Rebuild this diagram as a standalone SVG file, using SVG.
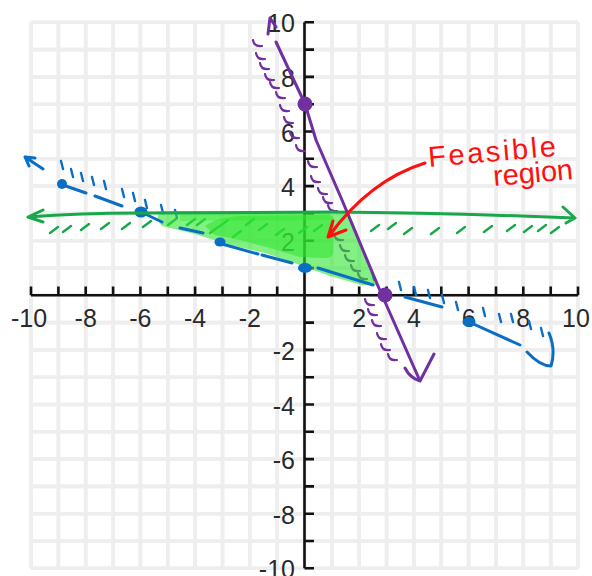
<svg xmlns="http://www.w3.org/2000/svg" width="592" height="576" viewBox="0 0 592 576">
<style>
.grid{fill:none;stroke:#cccccc;stroke-width:2}
.halo{fill:none;stroke:#eeeeee;stroke-width:3.6}
.axis{fill:none;stroke:#111;stroke-width:2.6}
.lbl{font-family:"Liberation Sans",Arial,sans-serif;font-size:25px;fill:#2a2a2a}
.lx{text-anchor:middle}
.ly{text-anchor:end}
.ink{fill:none;stroke-linecap:round;stroke-linejoin:round}
.blue{stroke:#0b6ec5;stroke-width:3}
.blueh{stroke:#0b6ec5;stroke-width:2.4}
.green{stroke:#18a84a;stroke-width:3}
.greenh{stroke:#18a84a;stroke-width:2.4}
.purple{stroke:#7030a0;stroke-width:3}
.purpleh{stroke:#7030a0;stroke-width:2.2}
.red{stroke:#ff1010;stroke-width:3}
.note{font-family:"Liberation Sans",Arial,sans-serif;font-size:29px;fill:#ff1010}
</style>
<rect width="592" height="576" fill="#fff"/>
<g id="grid">
<path id="gridlines" d="M31 22.3V568.3M58.4 22.3V568.3M85.7 22.3V568.3M113.1 22.3V568.3M140.4 22.3V568.3M167.8 22.3V568.3M195.1 22.3V568.3M222.5 22.3V568.3M249.8 22.3V568.3M277.2 22.3V568.3M304.5 22.3V568.3M331.9 22.3V568.3M359.2 22.3V568.3M386.6 22.3V568.3M413.9 22.3V568.3M441.3 22.3V568.3M468.6 22.3V568.3M496 22.3V568.3M523.3 22.3V568.3M550.7 22.3V568.3M578 22.3V568.3M31 22.3H578M31 49.6H578M31 76.9H578M31 104.2H578M31 131.5H578M31 158.8H578M31 186.1H578M31 213.4H578M31 240.7H578M31 268H578M31 295.3H578M31 322.6H578M31 349.9H578M31 377.2H578M31 404.5H578M31 431.8H578M31 459.1H578M31 486.4H578M31 513.7H578M31 541H578M31 568.3H578" class="halo"/>
<use href="#gridlines" style="fill:none;stroke:#cccccc;stroke-width:2"/>
</g>
<g id="axes">
<path class="axis" d="M31 295.3H578M304.5 22.3V568.3"/>
<path class="axis" d="M31 286.5V295.3M58.4 286.5V295.3M85.7 286.5V295.3M113.1 286.5V295.3M140.4 286.5V295.3M167.8 286.5V295.3M195.1 286.5V295.3M222.5 286.5V295.3M249.8 286.5V295.3M277.2 286.5V295.3M331.9 286.5V295.3M359.2 286.5V295.3M386.6 286.5V295.3M413.9 286.5V295.3M441.3 286.5V295.3M468.6 286.5V295.3M496 286.5V295.3M523.3 286.5V295.3M550.7 286.5V295.3M578 286.5V295.3M304.5 22.3H314M304.5 49.6H314M304.5 76.9H314M304.5 104.2H314M304.5 131.5H314M304.5 158.8H314M304.5 186.1H314M304.5 213.4H314M304.5 240.7H314M304.5 268H314M304.5 322.6H314M304.5 349.9H314M304.5 377.2H314M304.5 404.5H314M304.5 431.8H314M304.5 459.1H314M304.5 486.4H314M304.5 513.7H314M304.5 541H314M304.5 568.3H314"/>
<g class="lbl lx">
<text x="29" y="327">-10</text><text x="85.7" y="327">-8</text><text x="140.4" y="327">-6</text><text x="195.1" y="327">-4</text><text x="249.8" y="327">-2</text><text x="359.2" y="327">2</text><text x="413.9" y="327">4</text><text x="468.6" y="327">6</text><text x="523.3" y="327">8</text><text x="576" y="327">10</text>
</g>
<g class="lbl ly">
<text x="295" y="32.3">10</text><text x="295" y="86.9">8</text><text x="295" y="141.5">6</text><text x="295" y="196.1">4</text><text x="295" y="250.7">2</text><text x="295" y="359.9">-2</text><text x="295" y="414.5">-4</text><text x="295" y="469.1">-6</text><text x="295" y="523.7">-8</text><text x="295" y="578.3">-10</text>
</g>
</g>
<g id="hatches">
<path class="ink greenh" d="M50 233l8-6M63 232l8-6M81 230l8-6M101 229l8-6M122 229l8-6M143 227l8-6M168 225l8-6M187 225l8-6M197 225l8-6M210 233l8-6M220 226l8-6M233 237l8-6M246 225l8-6M259 230l8-6M276 235l8-6M299 233l8-6M314 231l8-6M371 231l8-6M388 229l8-6M404 234l8-6M431 234l8-6M457 233l8-6M484 232l8-6M507 231l8-6M524 232l8-6M538 231l8-6M551 233l8-6"/>
<path class="ink purpleh" d="M253 40q1 7 9 6M256 53q1 7 9 6M260 63q1 7 9 6M265 74q1 7 9 6M270 82q1 7 9 6M276 92q1 7 9 6M280 105q1 7 9 6M284 117q1 7 9 6M290 132q1 7 9 6M296 145q1 7 9 6M308 161q1 7 9 6M311 176q1 7 9 6M318 188q1 7 9 6M323 197q1 7 9 6M328 205q1 7 9 6M334 234q1 7 9 6M340 245q1 7 9 6M345 255q1 7 9 6M351 265q1 7 9 6M358 273q1 7 9 6M365 299q1 7 9 6M368 309q1 7 9 6M372 320q1 7 9 6M377 333q1 7 9 6M381 344q1 7 9 6M388 354q1 7 9 6"/>
<path class="ink blueh" d="M61 161l2 8M71 169l2 8M81 173l2 8M92 177l2 8M104 181l2 8M122 189l2 8M133 193l2 8M145 200l2 8M161 205l2 8M175 210l2 8M372 272l2 8M399 282l2 8M414 287l2 8M428 290l2 8M442 295l2 8M456 302l2 8M483 308l2 8M499 314l2 8M511 314l2 8M529 321l2 8M541 328l2 8"/>
</g>
<g id="feasible-fill">
<path d="M160 211L330 211L349 213L354 224L366 256L376 285L362 285L330 276L300 265L265 253L230 245L195 234L162 226Q155 218 160 211Z" fill="#2ee62e" fill-opacity="0.6"/>
<path d="M205 226Q215 218 240 216L330 215Q334 216 334 222L333 254Q331 259 322 258L300 257L270 248L240 240L215 235Z" fill="#2ee62e" fill-opacity="0.55"/>
<path d="M180 213L330 213L330 220L180 221Z" fill="#2ee62e" fill-opacity="0.35"/>
</g>
<g id="connectors">
<g id="blue-line">
<path class="ink blue" d="M25 157L43 169M25 157L35 158M25 157L29 166M60 184L86 193M95 196L122 206M141 212L162 222M180 228L203 233M222 244L258 254M262 255L292 263M318 268L373 285M405 297L442 307M469 322L520 345M527 352Q540 366 551 366Q556 350 549 333"/>
<circle cx="62" cy="184" r="5" fill="#0b6ec5"/>
<ellipse cx="141" cy="212" rx="6.5" ry="5.5" fill="#0b6ec5"/>
<ellipse cx="220" cy="242" rx="5.5" ry="4.5" fill="#0b6ec5"/>
<ellipse cx="305" cy="268" rx="7" ry="5" fill="#0b6ec5"/>
<ellipse cx="469" cy="322" rx="6.5" ry="5" fill="#0b6ec5"/>
</g>
<g id="green-line">
<path class="ink green" d="M28 217Q80 213 140 213L330 212Q450 213 575 218M43 210L28 217L43 222M563 207L575 218L566 223"/>
</g>
<g id="purple-line">
<path class="ink purple" d="M276 42L305 104L316 140L342 200L378 286L420 381M268 34L270 18L276 27M405 368Q410 378 420 381L434 354"/>
<circle cx="305" cy="104" r="7.5" fill="#7030a0"/>
<circle cx="385" cy="295" r="7.5" fill="#7030a0"/>
</g>
<g id="red-arrow">
<path class="ink red" d="M425 163Q370 180 329 236M333 221L328 237L346 230"/>
</g>
</g>
<g id="label">
<text class="note" x="429" y="167" textLength="128" transform="rotate(-5 429 167)">Feasible</text>
<text class="note" x="494" y="186" textLength="80" transform="rotate(-5 494 186)">region</text>
</g>
</svg>
